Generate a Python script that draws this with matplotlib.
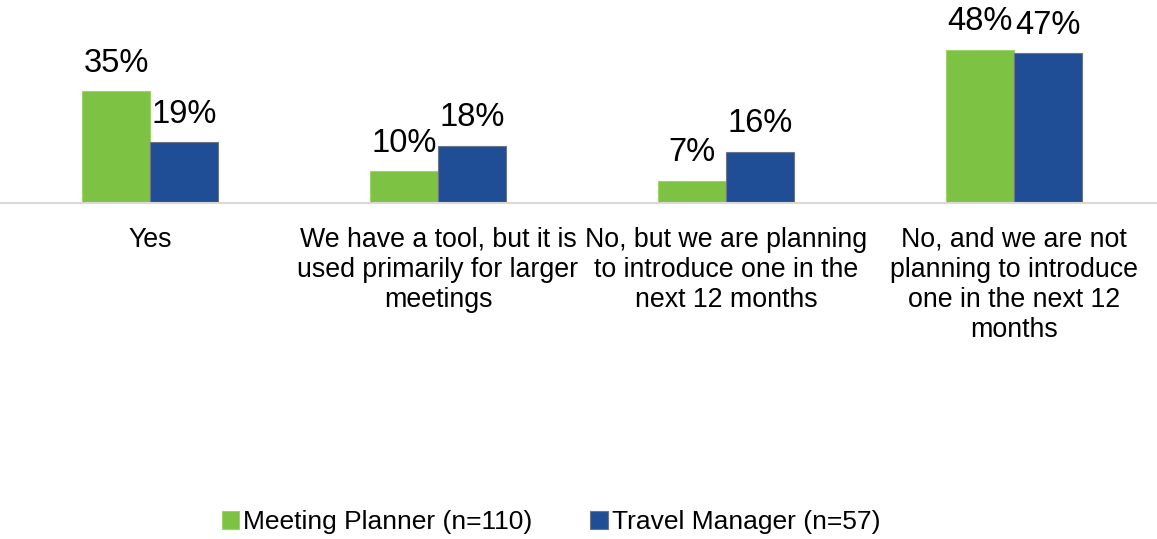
import matplotlib.pyplot as plt
import numpy as np

plt.rcParams['font.family'] = ['Liberation Sans', 'DejaVu Sans']

categories = ["Yes",
              "We have a tool, but it is\nused primarily for larger\nmeetings",
              "No, but we are planning\nto introduce one in the\nnext 12 months",
              "No, and we are not\nplanning to introduce\none in the next 12\nmonths"]
planner = [35, 10, 7, 48]
travel = [19, 18, 16, 47]
series_names = ["Meeting Planner (n=110)", "Travel Manager (n=57)"]

W, H = 1157, 539
fig = plt.figure(figsize=(W / 100, H / 100), dpi=100)
ax = fig.add_axes([0, 1 - 203 / H, 1, 203 / H])

x = np.arange(len(categories))
bw = 68 / 288
b1 = ax.bar(x - bw / 2, planner, bw, color="#7DC242", edgecolor="#9CD46A", linewidth=0.8,
            label=series_names[0])
b2 = ax.bar(x + bw / 2, travel, bw, color="#1F4E96", edgecolor="#6B7585", linewidth=0.8,
            label=series_names[1])

for bars in (b1, b2):
    for r in bars:
        ax.annotate(f"{int(r.get_height())}%", (r.get_x() + r.get_width() / 2, r.get_height()),
                    xytext=(0, 9), textcoords="offset points", ha="center", va="bottom",
                    fontsize=23.5, color="black")

ax.set_xlim(-150 / 288, (W - 150) / 288)
ax.set_ylim(0, 203 / 3.19)
ax.set_xticks(x)
ax.set_xticklabels(categories, fontsize=19.3, linespacing=1.2)
ax.tick_params(axis="x", length=0, pad=17)
ax.set_yticks([])
for s in ["top", "left", "right"]:
    ax.spines[s].set_visible(False)
ax.spines["bottom"].set_color("#D9D9D9")
ax.spines["bottom"].set_linewidth(1.5)

fig.legend(handles=[b1, b2], loc="center", bbox_to_anchor=(551 / W, 1 - 522 / H),
           ncol=2, frameon=False, fontsize=19, handlelength=0.65, handleheight=0.65,
           handletextpad=0.15, columnspacing=2.2)

fig.savefig("out.png", dpi=100)
